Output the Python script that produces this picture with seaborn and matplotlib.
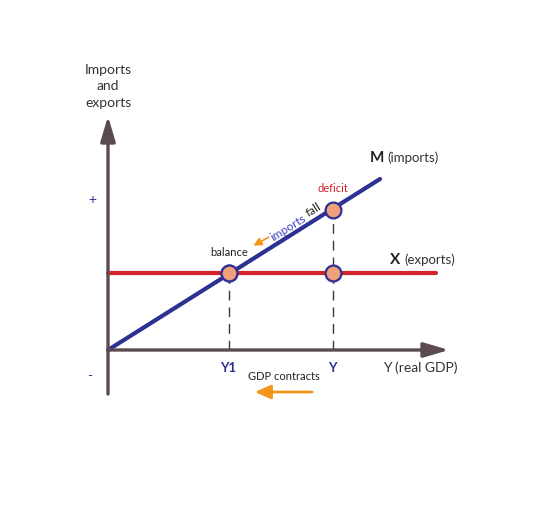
import matplotlib.pyplot as plt
import seaborn as sns
import pandas as pd

# Values in chart units (origin at the axes crossing)
m_gdp = [0, 272]          # imports line, GDP range
m_imports = [0, 171]      # imports line values
x_gdp = [0, 328]          # exports line, GDP range
x_exports = [77, 77]      # exports are flat
pt_gdp = [121, 225]       # Y1 (balance), Y (deficit)
pt_level = [77, 140]
pt_names = ["balance", "deficit"]
tick_names = ["Y1", "Y"]

navy = "#2e3192"
red = "#d2232a"
axis_col = "#5b4a4f"
orange = "#f7941d"

sns.set_theme(style="white")
plt.rcParams["font.family"] = ["Lato", "DejaVu Sans"]

fig = plt.figure(figsize=(5.58, 5.10), dpi=100)
ax = fig.add_axes([0, 0, 1, 1])

# axes with arrow heads
arrow = dict(arrowstyle="-|>,head_length=0.95,head_width=0.28", lw=2.4,
             color=axis_col, mutation_scale=16, shrinkA=0, shrinkB=0)
ax.annotate("", xy=(0, 234), xytext=(0, -44), arrowprops=arrow)
ax.annotate("", xy=(341, 0), xytext=(0, 0), arrowprops=arrow)

# dashed drop lines
for g, lv in zip(pt_gdp, pt_level):
    ax.plot([g, g], [0, lv], color="#3a3a3a", lw=1, dashes=(7, 5), zorder=1)

lines = pd.DataFrame({
    "gdp": m_gdp + x_gdp,
    "val": m_imports + x_exports,
    "series": ["M", "M", "X", "X"],
})
sns.lineplot(data=lines, x="gdp", y="val", hue="series",
             palette={"M": navy, "X": red}, lw=3, legend=False, ax=ax,
             zorder=2)

pts = pd.DataFrame({"gdp": pt_gdp * 2, "val": pt_level + [77, 77]})
sns.scatterplot(data=pts, x="gdp", y="val", s=130, color="#f0a07a",
                edgecolor=navy, linewidth=1.6, zorder=3, ax=ax)

ax.set_xlim(-108, 450)
ax.set_ylim(-159, 351)
ax.axis("off")

# text
ax.text(0, 265, "Imports\nand\nexports", ha="center", va="center",
        fontsize=10, color="#333333", linespacing=1.45)
ax.text(-16, 151, "+", ha="center", va="center", fontsize=10, color=navy)
ax.text(-18, -25, "-", ha="center", va="center", fontsize=10, color=navy)
for g, name in zip(pt_gdp, tick_names):
    ax.text(g - 1, -17, name, ha="center", va="center", fontsize=9.5,
            fontweight="bold", color=navy)
ax.text(312, -17, "Y (real GDP)", ha="center", va="center", fontsize=10,
        color="#333333")
ax.text(176, -25, "GDP contracts", ha="center", va="center", fontsize=8,
        color="#222222")
ax.annotate("", xy=(144, -42), xytext=(207, -42),
            arrowprops=dict(arrowstyle="-|>,head_length=0.8,head_width=0.35",
                            lw=2, color=orange, mutation_scale=12))

ax.text(pt_gdp[0], 99, pt_names[0], ha="center", va="center", fontsize=8,
        color="#222222")
ax.text(pt_gdp[1], 163, pt_names[1], ha="center", va="center", fontsize=8,
        color=red)
ax.text(180, 123, "imports", rotation=32, ha="center", va="center",
        fontsize=8.5, color="#4040c0", rotation_mode="anchor")
ax.text(206, 141, "fall", rotation=32, ha="center", va="center",
        fontsize=8.5, color="#222222", rotation_mode="anchor")
ax.annotate("", xy=(143, 103), xytext=(163, 114),
            arrowprops=dict(arrowstyle="-|>,head_length=0.6,head_width=0.3",
                            lw=1.2, color=orange, mutation_scale=8))

ax.text(262, 193, "M", ha="left", va="center", fontsize=11,
        fontweight="bold", color="#222222")
ax.text(279, 193, "(imports)", ha="left", va="center", fontsize=9.5,
        color="#333333")
ax.text(282, 91, "X", ha="left", va="center", fontsize=11,
        fontweight="bold", color="#222222")
ax.text(296, 91, "(exports)", ha="left", va="center", fontsize=9.5,
        color="#333333")

fig.savefig("out.png", dpi=100)
